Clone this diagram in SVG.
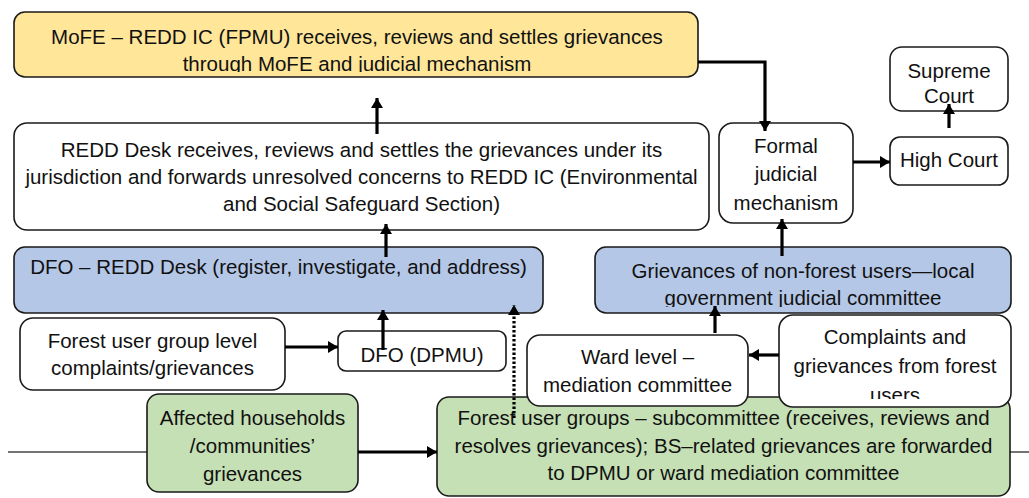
<svg xmlns="http://www.w3.org/2000/svg" width="1029" height="498" viewBox="0 0 1029 498">
<defs>
<style>
.box{stroke:#1a1a1a;stroke-width:1.6}
.w{fill:#ffffff}
.y{fill:#ffe699}
.b{fill:#b4c7e7}
.g{fill:#c5e0b4}
text{font-family:"Liberation Sans",Arial,sans-serif;font-size:20.5px;fill:#111;text-anchor:middle}
.c{fill:none;stroke:#000;stroke-width:3.2}
.d{fill:none;stroke:#000;stroke-width:3.2;stroke-dasharray:2.5 2}
</style>
<marker id="ah" markerUnits="userSpaceOnUse" markerWidth="12" markerHeight="12" refX="10" refY="6" orient="auto">
<path d="M0,0 L10,6 L0,12 z" fill="#000"/>
</marker>
<clipPath id="cy"><rect x="14" y="12" width="684" height="60"/></clipPath>
<clipPath id="cgov"><rect x="595" y="247" width="416" height="60"/></clipPath>
<clipPath id="caff"><rect x="147" y="394" width="211" height="91"/></clipPath>
<clipPath id="ccom"><rect x="779" y="315" width="232" height="84"/></clipPath>
</defs>
<line x1="8" y1="452" x2="1029" y2="452" stroke="#444" stroke-width="1.6"/>
<g id="mofe">
<rect class="box y" x="14" y="12" width="684" height="65" rx="11"/>
<g clip-path="url(#cy)">
<text x="357" y="44">MoFE – REDD IC (FPMU) receives, reviews and settles grievances</text>
<text x="357" y="71">through MoFE and judicial mechanism</text>
</g>
</g>
<g id="redd-desk">
<rect class="box w" x="14" y="123" width="695" height="107" rx="13"/>
<text x="361.5" y="157">REDD Desk receives, reviews and settles the grievances under its</text>
<text x="361.5" y="184">jurisdiction and forwards unresolved concerns to REDD IC (Environmental</text>
<text x="361.5" y="211">and Social Safeguard Section)</text>
</g>
<g id="formal">
<rect class="box w" x="719" y="123" width="134" height="100" rx="14"/>
<text x="786" y="153">Formal</text>
<text x="786" y="181">judicial</text>
<text x="786" y="210">mechanism</text>
</g>
<g id="supreme">
<rect class="box w" x="890" y="47" width="118" height="64" rx="12"/>
<text x="949" y="78">Supreme</text>
<text x="949" y="103">Court</text>
</g>
<g id="high-court">
<rect class="box w" x="890" y="137" width="118" height="48" rx="10"/>
<text x="949" y="167">High Court</text>
</g>
<g id="dfo-redd">
<rect class="box b" x="14" y="247" width="529" height="66" rx="11"/>
<text x="278.5" y="274">DFO – REDD Desk (register, investigate, and address)</text>
</g>
<g id="non-forest">
<rect class="box b" x="595" y="247" width="416" height="66" rx="11"/>
<g clip-path="url(#cgov)">
<text x="803" y="278">Grievances of non-forest users—local</text>
<text x="803" y="305">government judicial committee</text>
</g>
</g>
<g id="fug-level">
<rect class="box w" x="20" y="318" width="265" height="72" rx="13"/>
<text x="152.5" y="348">Forest user group level</text>
<text x="152.5" y="375">complaints/grievances</text>
</g>
<g id="dpmu">
<rect class="box w" x="338" y="331" width="168" height="40" rx="8"/>
<text x="422" y="362">DFO (DPMU)</text>
</g>
<g id="affected">
<rect class="box g" x="147" y="394" width="211" height="98" rx="12"/>
<g clip-path="url(#caff)">
<text x="252.5" y="425">Affected households</text>
<text x="252.5" y="453">/communities’</text>
<text x="252.5" y="481">grievances</text>
</g>
</g>
<g id="fug-sub">
<rect class="box g" x="437" y="397" width="573" height="99" rx="12"/>
<text x="723.5" y="425">Forest user groups – subcommittee (receives, reviews and</text>
<text x="723.5" y="453">resolves grievances); BS–related grievances are forwarded</text>
<text x="723.5" y="480">to DPMU or ward mediation committee</text>
</g>
<g id="ward">
<rect class="box w" x="527" y="335" width="221" height="71" rx="13"/>
<text x="637.5" y="364">Ward level –</text>
<text x="637.5" y="392">mediation committee</text>
</g>
<g id="complaints">
<rect class="box w" x="779" y="315" width="232" height="92" rx="14"/>
<g clip-path="url(#ccom)">
<text x="895" y="344">Complaints and</text>
<text x="895" y="373">grievances from forest</text>
<text x="895" y="402">users</text>
</g>
</g>
<g id="connectors">
<path class="c" d="M698,62 H765 V131" marker-end="url(#ah)"/>
<path class="c" d="M853,162 H890" marker-end="url(#ah)"/>
<path class="c" d="M949,128 V104" marker-end="url(#ah)"/>
<path class="c" d="M377,134 V98" marker-end="url(#ah)"/>
<path class="c" d="M386,257 V224" marker-end="url(#ah)"/>
<path class="c" d="M285,347 H338" marker-end="url(#ah)"/>
<path class="c" d="M383,350 V310" marker-end="url(#ah)"/>
<path class="d" d="M514,418 V305" marker-end="url(#ah)"/>
<path class="c" d="M782,256 V219" marker-end="url(#ah)"/>
<path class="c" d="M779,355 H749" marker-end="url(#ah)"/>
<path class="c" d="M715,333 V306" marker-end="url(#ah)"/>
<path class="c" d="M358,452 H437" marker-end="url(#ah)"/>
</g>
</svg>
